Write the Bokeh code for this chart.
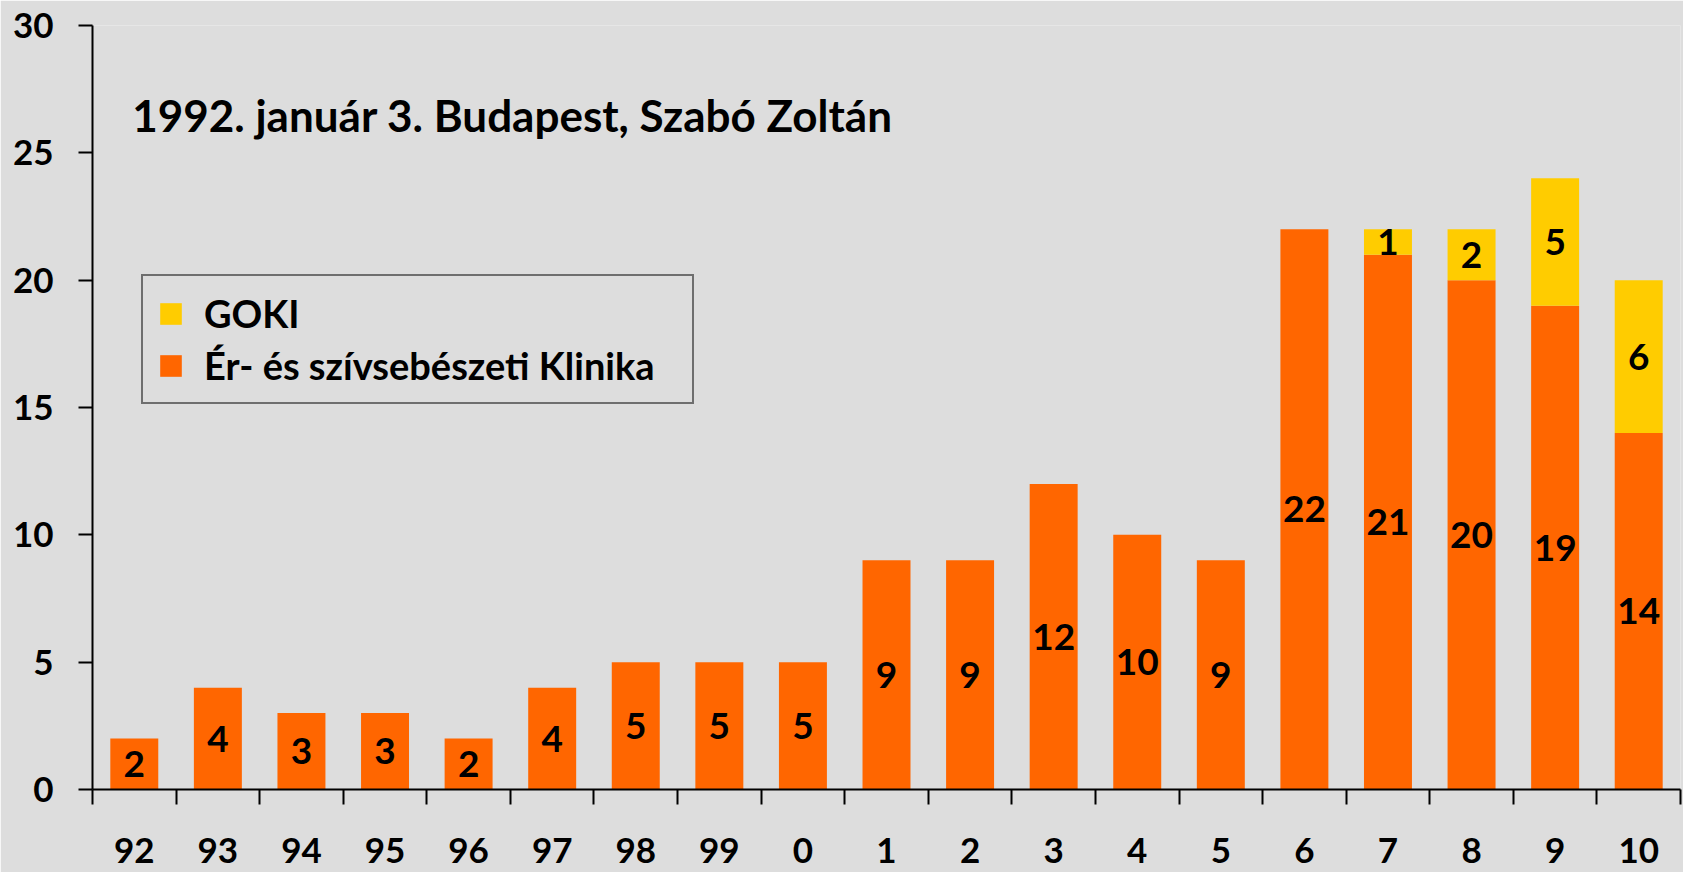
from bokeh.plotting import figure
from bokeh.models import ColumnDataSource, FixedTicker, Legend, LegendItem, Label, Range1d
from bokeh.core.properties import value
from bokeh.embed import file_html
from bokeh.resources import INLINE
import numpy as np

# ---- data ----
years = ["92", "93", "94", "95", "96", "97", "98", "99", "0", "1",
         "2", "3", "4", "5", "6", "7", "8", "9", "10"]
klinika = [2, 4, 3, 3, 2, 4, 5, 5, 5, 9, 9, 12, 10, 9, 22, 21, 20, 19, 14]
goki = [0, 0, 0, 0, 0, 0, 0, 0, 0, 0, 0, 0, 0, 0, 0, 1, 2, 5, 6]
series_names = ["GOKI", "Ér- és szívsebészeti Klinika"]
title_text = "1992. január 3. Budapest, Szabó Zoltán"
y_ticks = [0, 5, 10, 15, 20, 25, 30]

# ---- style ----
FONT = "Lato"
BG = "#DDDDDD"
ORANGE = "#FF6600"
YELLOW = "#FFCC00"

n = len(years)
xs = np.arange(n)
kl = np.array(klinika, dtype=float)
go = np.array(goki, dtype=float)

src = ColumnDataSource(dict(x=xs, klinika=kl, goki=go))

p = figure(width=1683, height=872,
           x_range=Range1d(-0.5, n - 0.5), y_range=Range1d(0, 30),
           output_backend="svg", toolbar_location=None,
           min_border_left=92, min_border_right=3,
           min_border_top=25, min_border_bottom=83)
p.background_fill_color = BG
p.border_fill_color = BG
p.outline_line_color = None
p.grid.visible = False

rs = p.vbar_stack(["klinika", "goki"], x="x", width=0.574, source=src,
                  color=[ORANGE, YELLOW], line_color=None)

# value labels
lab_k = ColumnDataSource(dict(x=xs, y=kl / 2, t=[str(v) for v in klinika]))
mask = go > 0
lab_g = ColumnDataSource(dict(x=xs[mask], y=(kl + go / 2)[mask],
                              t=[str(int(v)) for v in go[mask]]))
for s in (lab_k, lab_g):
    p.text(x="x", y="y", text="t", source=s, text_align="center",
           text_baseline="middle", text_font=value(FONT),
           text_font_style="bold", text_font_size="37px", text_color="black")

# axes
xa = p.xaxis[0]
xa.ticker = FixedTicker(ticks=list(range(n)),
                        minor_ticks=[i - 0.5 for i in range(n + 1)])
xa.major_label_overrides = {i: years[i] for i in range(n)}
xa.major_tick_line_color = None
xa.major_tick_out = 0
xa.major_tick_in = 0
xa.minor_tick_in = 0
xa.minor_tick_out = 15
xa.minor_tick_line_width = 2
xa.minor_tick_line_color = "black"
xa.axis_line_width = 2
xa.axis_line_color = "black"
xa.major_label_standoff = 33
xa.major_label_text_font = FONT
xa.major_label_text_font_style = "bold"
xa.major_label_text_font_size = "35px"
xa.major_label_text_color = "black"

ya = p.yaxis[0]
ya.ticker = FixedTicker(ticks=y_ticks)
ya.minor_tick_line_color = None
ya.major_tick_in = 0
ya.major_tick_out = 14
ya.major_tick_line_width = 2
ya.axis_line_width = 2
ya.axis_line_color = "black"
ya.major_label_standoff = 25
ya.major_label_text_font = FONT
ya.major_label_text_font_style = "bold"
ya.major_label_text_font_size = "35px"
ya.major_label_text_color = "black"

# title inside plot
p.add_layout(Label(x=-0.025, y=26.5, text=title_text, text_font=FONT,
                   text_font_style="bold", text_font_size="44px",
                   text_color="black", text_baseline="alphabetic"))

legend = Legend(items=[LegendItem(label=series_names[0], renderers=[rs[1]]),
                       LegendItem(label=series_names[1], renderers=[rs[0]])],
                location=(49, 385), padding=14, spacing=6,
                glyph_width=27, glyph_height=27,
                label_standoff=20, label_width=474,
                label_text_font=FONT, label_text_font_style="bold",
                label_text_font_size="38px", label_text_color="black",
                label_text_baseline="middle",
                border_line_color="black", border_line_width=2,
                background_fill_color=BG, background_fill_alpha=1.0,
                margin=0)
p.add_layout(legend)

open("out.html", "w").write(file_html(p, INLINE))
